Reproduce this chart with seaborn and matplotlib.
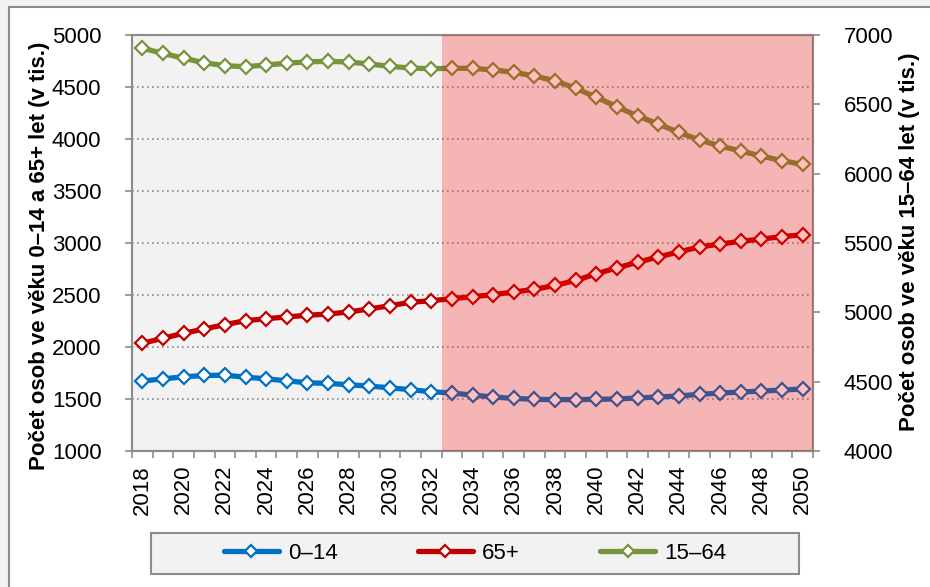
import numpy as np
import pandas as pd
import matplotlib.pyplot as plt
import matplotlib.ticker as ticker
from matplotlib.patches import Rectangle
import seaborn as sns

# Values (thousands of persons)
years = list(range(2018, 2051))
age_0_14 = [1672, 1694, 1713, 1726, 1729, 1710, 1694, 1675, 1656, 1650, 1637, 1624, 1608, 1589, 1570,
            1557, 1538, 1519, 1506, 1497, 1494, 1494, 1497, 1500, 1510, 1519, 1529, 1545, 1557, 1567,
            1576, 1586, 1596]
age_65_plus = [2036, 2084, 2132, 2173, 2215, 2253, 2272, 2289, 2305, 2317, 2337, 2366, 2397, 2430, 2445,
               2465, 2484, 2503, 2529, 2554, 2592, 2640, 2704, 2761, 2815, 2866, 2914, 2962, 2990, 3016,
               3038, 3061, 3080]
age_15_64 = [6904, 6868, 6832, 6800, 6779, 6771, 6784, 6796, 6807, 6810, 6805, 6791, 6774, 6762, 6757,
             6760, 6760, 6748, 6731, 6704, 6670, 6616, 6551, 6483, 6416, 6358, 6298, 6243, 6200, 6163,
             6127, 6093, 6067]
series_names = ['0–14', '65+', '15–64']
series_colors = ['#0070C0', '#C00000', '#77933C']
projection_start = 2032.5

left_label = 'Počet osob ve věku 0–14 a 65+ let (v tis.)'
right_label = 'Počet osob ve věku 15–64 let (v tis.)'

sns.set_style('ticks')
plt.rcParams['font.family'] = ['Liberation Sans', 'DejaVu Sans']
plt.rcParams['text.color'] = 'black'
plt.rcParams['xtick.labelcolor'] = 'black'
plt.rcParams['ytick.labelcolor'] = 'black'

df = pd.DataFrame({'year': years, '0–14': age_0_14, '65+': age_65_plus, '15–64': age_15_64})

fig = plt.figure(figsize=(9.3, 5.87), dpi=100, facecolor='#F2F2F2')
fig.add_artist(Rectangle((9 / 930, -0.01), 1.0, 1 - 7 / 587 + 0.01, transform=fig.transFigure,
                         facecolor='white', edgecolor='#8C8C8C', lw=1.5, zorder=-10))

ax = fig.add_axes([132 / 930, 1 - 451 / 587, (813 - 132) / 930, (451 - 35) / 587])
ax.set_facecolor('#F2F2F2')
ax2 = ax.twinx()

line_kw = dict(marker='D', markersize=7.5, markerfacecolor='white', markeredgewidth=1.6,
               linewidth=3.8, legend=False)
for name, color in zip(series_names[:2], series_colors[:2]):
    sns.lineplot(data=df, x='year', y=name, ax=ax, color=color, markeredgecolor=color,
                 label=name, zorder=3, **line_kw)
sns.lineplot(data=df, x='year', y=series_names[2], ax=ax2, color=series_colors[2],
             markeredgecolor=series_colors[2], label=series_names[2], zorder=3, **line_kw)

# projection period overlay
ax2.axvspan(projection_start, years[-1] + 0.5, color='red', alpha=0.25, lw=0, zorder=10)

ax.set_xlim(years[0] - 0.5, years[-1] + 0.5)
ax.set_ylim(1000, 5000)
ax2.set_ylim(4000, 7000)
ax.yaxis.set_major_locator(ticker.MultipleLocator(500))
ax2.yaxis.set_major_locator(ticker.MultipleLocator(500))
ax.set_xticks(years[::2])
ax.set_xticklabels([str(y) for y in years[::2]], rotation=90)
ax.xaxis.set_minor_locator(ticker.FixedLocator(np.arange(years[0] - 0.5, years[-1] + 1, 1)))
ax.tick_params(axis='x', which='major', length=0, pad=10, labelsize=16)
ax.tick_params(axis='x', which='minor', length=5, width=1.2, color='#8C8C8C')
ax.tick_params(axis='y', length=5, width=1.2, color='#8C8C8C', labelsize=16, pad=17)
ax2.tick_params(axis='y', length=5, width=1.2, color='#8C8C8C', labelsize=16, pad=17)
ax.grid(axis='y', linestyle=(0, (1, 2)), color='#8C8C8C', linewidth=1.2)
ax.set_xlabel('')
ax.set_ylabel('')
ax2.set_ylabel('')
for a in (ax, ax2):
    for sp in a.spines.values():
        sp.set_visible(True)
        sp.set_color('#8C8C8C')
        sp.set_linewidth(1.5)

fig.text(40 / 930, 1 - 256 / 587, left_label, rotation=90, ha='center', va='center',
         fontsize=16, fontweight='bold')
fig.text(909 / 930, 1 - 242 / 587, right_label, rotation=90, ha='center', va='center',
         fontsize=16, fontweight='bold')

# legend box
fig.add_artist(Rectangle((151 / 930, 1 - 574 / 587), 648 / 930, 41 / 587, transform=fig.transFigure,
                         facecolor='#F2F2F2', edgecolor='#8C8C8C', lw=1.5))
h1, l1 = ax.get_legend_handles_labels()
h2, l2 = ax2.get_legend_handles_labels()
leg = fig.legend(h1 + h2, l1 + l2, loc='center', bbox_to_anchor=(475 / 930, 1 - 553.5 / 587),
                 ncol=3, frameon=False, fontsize=16, handlelength=2.5, handletextpad=0.4,
                 columnspacing=3.6, markerscale=0.8)

fig.savefig('out.png', dpi=100)
